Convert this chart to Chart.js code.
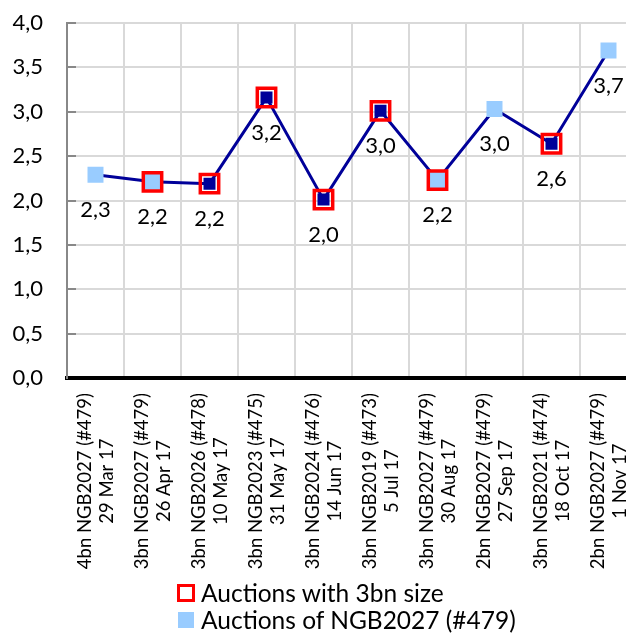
<!DOCTYPE html>
<html lang="en">
  <head>
    <meta charset="UTF-8" />
    <title>NGB auction yields</title>
    <script src="https://cdn.jsdelivr.net/npm/chart.js"></script>
    <style>
      html,
      body {
        margin: 0;
        padding: 0;
        background: #fff;
        overflow: hidden;
      }
      #wrap {
        position: relative;
        width: 626px;
        height: 633px;
        overflow: hidden;
      }
      #wrap canvas {
        position: absolute;
        left: 0;
        top: 0;
      }
      .legend {
        position: absolute;
        left: 177px;
        font-family: Lato, sans-serif;
        font-size: 24.5px;
        line-height: 28px;
        color: #000;
        display: flex;
        align-items: center;
      }
      .legend span.box {
        display: inline-block;
        margin-right: 6px;
        box-sizing: border-box;
      }
    </style>
  </head>
  <body>
    <div id="wrap">
      <canvas id="auctionChart" width="640" height="633"></canvas>
      <div class="legend" style="top: 579px">
        <span class="box" style="width: 18px; height: 18px; border: 3px solid #ff0000"></span>
        Auctions with 3bn size
      </div>
      <div class="legend" style="top: 606px">
        <span class="box" style="width: 16px; height: 16px; background: #99ccff; margin-left: 1px; margin-right: 7px"></span>
        Auctions of NGB2027 (#479)
      </div>
    </div>
    <script>
      const bonds = [
        "4bn NGB2027 (#479)",
        "3bn NGB2027 (#479)",
        "3bn NGB2026 (#478)",
        "3bn NGB2023 (#475)",
        "3bn NGB2024 (#476)",
        "3bn NGB2019 (#473)",
        "3bn NGB2027 (#479)",
        "2bn NGB2027 (#479)",
        "3bn NGB2021 (#474)",
        "2bn NGB2027 (#479)",
      ];
      const dates = [
        "29 Mar 17",
        "26 Apr 17",
        "10 May 17",
        "31 May 17",
        "14 Jun 17",
        "5 Jul 17",
        "30 Aug 17",
        "27 Sep 17",
        "18 Oct 17",
        "1 Nov 17",
      ];
      const yields = [2.29, 2.21, 2.19, 3.16, 2.01, 3.01, 2.23, 3.03, 2.64, 3.69];

      const fmt = (v) => v.toFixed(1).replace(".", ",");

      // marker series: only the auctions that belong to each group
      const size3bn = yields.map((v, i) => (bonds[i].startsWith("3bn") ? v : null));
      const ngb2027 = yields.map((v, i) => (bonds[i].includes("NGB2027") ? v : null));

      // two-line rotated category labels, lines centred on each other
      const tickLabels = {
        id: "tickLabels",
        afterDraw(chart) {
          const { ctx } = chart;
          const x = chart.scales.x;
          ctx.save();
          ctx.font = "18.5px Lato";
          ctx.fillStyle = "#000";
          ctx.textAlign = "center";
          ctx.textBaseline = "middle";
          bonds.forEach((b, i) => {
            const lines = [b, dates[i]];
            const w = Math.max(...lines.map((l) => ctx.measureText(l).width));
            const cx = x.getPixelForValue(i);
            const cy = x.top + 15 + w / 2;
            ctx.save();
            ctx.translate(cx, cy);
            ctx.rotate(-Math.PI / 2);
            lines.forEach((l, j) => ctx.fillText(l, 0, (j - 0.5) * 22 + 1));
            ctx.restore();
          });
          ctx.restore();
        },
      };

      // value labels under every point of the main line
      const valueLabels = {
        id: "valueLabels",
        afterDatasetsDraw(chart) {
          const { ctx } = chart;
          const meta = chart.getDatasetMeta(0);
          ctx.save();
          ctx.font = "22px Lato";
          ctx.fillStyle = "#000";
          ctx.textAlign = "center";
          ctx.textBaseline = "middle";
          meta.data.forEach((pt, i) => {
            ctx.fillText(fmt(yields[i]), pt.x, pt.y + 35);
          });
          ctx.restore();
        },
      };

      new Chart(document.getElementById("auctionChart"), {
        type: "line",
        data: {
          labels: bonds,
          datasets: [
            {
              label: "Yield",
              data: yields,
              borderColor: "#000099",
              borderWidth: 3,
              backgroundColor: "#000099",
              pointStyle: "rect",
              pointRadius: 8.5,
              pointBorderWidth: 0,
              tension: 0,
              order: 3,
            },
            {
              label: "Auctions of NGB2027 (#479)",
              data: ngb2027,
              showLine: false,
              backgroundColor: "#99ccff",
              pointStyle: "rect",
              pointRadius: 11.3,
              pointBorderWidth: 0,
              order: 2,
            },
            {
              label: "Auctions with 3bn size",
              data: size3bn,
              showLine: false,
              backgroundColor: "rgba(0,0,0,0)",
              borderColor: "#ff0000",
              pointStyle: "rect",
              pointRadius: 13,
              pointBorderWidth: 3.5,
              order: 1,
            },
          ],
        },
        options: {
          responsive: false,
          animation: false,
          layout: { autoPadding: false, padding: { top: 23, left: 0, right: 3, bottom: 0 } },
          plugins: {
            legend: { display: false },
            tooltip: { enabled: false },
          },
          scales: {
            x: {
              offset: true,
              grid: {
                offset: true,
                color: "#d9d9d9",
                lineWidth: 2,
                drawTicks: false,
              },
              border: { color: "#000", width: 4 },
              ticks: { display: false },
              afterFit: (s) => {
                s.height = 255;
              },
            },
            y: {
              min: 0,
              max: 4,
              grid: {
                color: "#d9d9d9",
                lineWidth: 2,
                tickLength: -9,
                tickColor: "#888",
              },
              border: { color: "#888", width: 2 },
              ticks: {
                stepSize: 0.5,
                padding: 33,
                color: "#000",
                font: { family: "Lato", size: 22 },
                callback: (v) => fmt(v),
              },
              afterFit: (s) => {
                s.width = 67;
                s.paddingTop = 0;
                s.paddingBottom = 0;
              },
            },
          },
        },
        plugins: [tickLabels, valueLabels],
      });
    </script>
  </body>
</html>
